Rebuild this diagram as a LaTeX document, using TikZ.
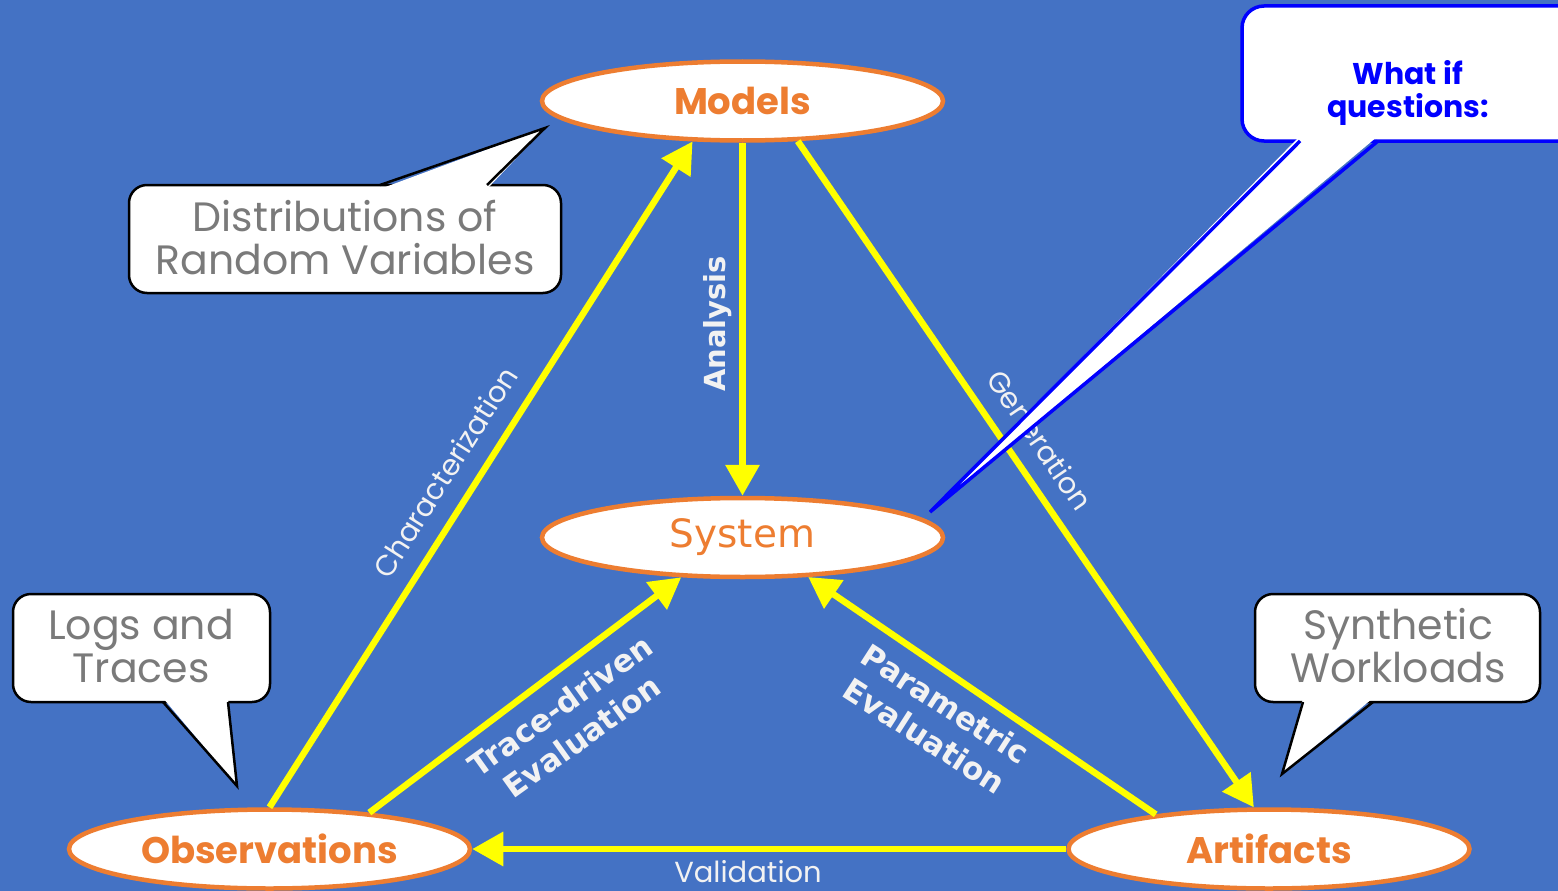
\documentclass[tikz,border=0pt]{standalone}
\usepackage{fontspec}
\usetikzlibrary{arrows.meta,shapes.geometric}
\newfontfamily\comic{Poppins}
\newfontfamily\verd{DejaVu Sans}
\definecolor{bgblue}{HTML}{4472C4}
\definecolor{orng}{HTML}{ED7D31}
\definecolor{yel}{HTML}{FFFF00}
\definecolor{gry}{HTML}{7A7A7A}
\definecolor{lblc}{HTML}{F2F2F2}
\definecolor{qblue}{HTML}{0000FF}
\begin{document}
\begin{tikzpicture}[x=1pt,y=-1pt,
  ell/.style={ellipse, draw=orng, line width=4.5pt, fill=white, inner sep=0pt,
    minimum width=401pt, minimum height=79pt, text=orng,
    font=\comic\bfseries\fontsize{37}{40}\selectfont},
  conn/.style={draw=yel, line width=6.5pt, -{Triangle[length=31pt,width=33pt]}},
  comiclbl/.style={text=lblc, inner sep=0pt, font=\comic\fontsize{29}{34}\selectfont},
  boldlbl/.style={text=lblc, inner sep=0pt, align=center, font=\verd\bfseries\fontsize{31}{38}\selectfont},
  callbox/.style={fill=white, draw=black, line width=2.5pt, rounded corners=18pt},
  calltail/.style={draw=black, line width=2.5pt, line join=miter},
  ctext/.style={text=gry, inner sep=0pt, align=center, font=\comic\fontsize{41}{43}\selectfont},
  qtext/.style={text=qblue, inner sep=0pt, align=center, font=\comic\bfseries\fontsize{30}{33}\selectfont}
]
\useasboundingbox (0,0) rectangle (1558,891);
\clip (0,0) rectangle (1558,891);
\fill[bgblue] (0,0) rectangle (1558,891);

% ellipses
\node[ell] (models) at (742.5,101) {Models};
\node[ell, font=\verd\fontsize{39}{44}\selectfont] (system) at (742.5,537.5) {System};
\node[ell] (obs) at (269.5,849) {Observations};
\node[ell] (art) at (1269,849) {Artifacts};

% connectors
\draw[conn] (models.south) -- (system.north);
\draw[conn] (obs.north) -- (models.219);
\draw[conn] (models.-36) -- (art.110);
\draw[conn] (obs.20) -- (system.213);
\draw[conn] (art.163) -- (system.-31);
\draw[conn] (art.west) -- (obs.east);

% connector labels
\node[boldlbl, rotate=90, font=\verd\bfseries\fontsize{29}{34}\selectfont] (lanalysis) at (718,324) {Analysis};
\node[comiclbl, rotate=57.6] (lchar) at (445,472) {Characterization};
\node[comiclbl, rotate=-55.6] (lgen) at (1040,440) {Generation};
\node[boldlbl, rotate=35.6] (ltrace) at (571,721) {Trace-driven\\Evaluation};
\node[boldlbl, rotate=-32.8] (lparam) at (935,720) {Parametric\\Evaluation};
\node[comiclbl] (lvalid) at (748,872) {Validation};

% callout: distributions
\path[callbox] (129,185) rectangle (561,293);
\fill[white] (380,189) -- (545,128) -- (487,189) -- cycle;
\draw[calltail] (380,185) -- (545,128) -- (487,185);
\node[ctext] (tdist) at (345,238) {Distributions of\\Random Variables};

% callout: logs
\path[callbox] (13,594) rectangle (270,702);
\fill[white] (163,698) -- (237,786) -- (228,698) -- cycle;
\draw[calltail] (163,702) -- (237,786) -- (228,702);
\node[ctext] (tlogs) at (141,646) {Logs and\\Traces};

% callout: synthetic
\path[callbox] (1255,594) rectangle (1540,702);
\fill[white] (1303,698) -- (1282,774) -- (1373,698) -- cycle;
\draw[calltail] (1303,702) -- (1282,774) -- (1373,702);
\node[ctext] (tsyn) at (1398,646) {Synthetic\\Workloads};

% callout: what if
\path[callbox, draw=qblue, line width=3.5pt, rounded corners=22pt] (1242,6) rectangle (1620,141);
\fill[white] (1300,136) -- (930,512) -- (1378,136) -- cycle;
\draw[calltail, draw=qblue, line width=3.5pt] (1300,141) -- (930,512) -- (1378,141);
\node[qtext] (twhat) at (1408,93) {What if\\questions:};
\end{tikzpicture}
\end{document}
